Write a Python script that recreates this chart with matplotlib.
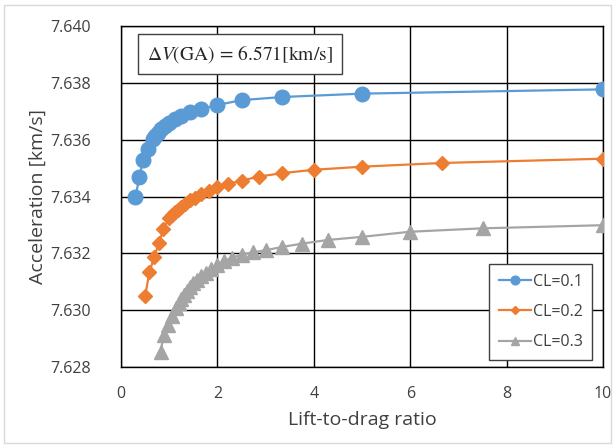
import matplotlib
matplotlib.use("Agg")
import matplotlib.pyplot as plt
from matplotlib.patches import Rectangle

plt.rcParams["font.family"] = ["Open Sans", "DejaVu Sans"]
plt.rcParams["mathtext.fontset"] = "stix"

# ---------------------------------------------------------------------------
# Data
# ---------------------------------------------------------------------------
ld_cl01 = [0.30, 0.38, 0.46, 0.57, 0.67, 0.71, 0.77, 0.83, 0.91, 1.00,
           1.11, 1.25, 1.43, 1.67, 2.00, 2.50, 3.33, 5.00, 10.00]
acc_cl01 = [7.63399, 7.63467, 7.63530, 7.63568, 7.63602, 7.63613, 7.63625,
            7.63636, 7.63648, 7.63660, 7.63672, 7.63684, 7.63696, 7.63707,
            7.63722, 7.63739, 7.63750, 7.63762, 7.63777]

ld_cl02 = [0.50, 0.59, 0.69, 0.79, 0.88, 1.00, 1.05, 1.11, 1.18, 1.25,
           1.33, 1.43, 1.54, 1.67, 1.82, 2.00, 2.22, 2.50, 2.86, 3.33,
           4.00, 5.00, 6.67, 10.00]
acc_cl02 = [7.63049, 7.63134, 7.63188, 7.63238, 7.63285, 7.63326, 7.63335,
            7.63344, 7.63354, 7.63364, 7.63375, 7.63386, 7.63396, 7.63408,
            7.63420, 7.63432, 7.63444, 7.63456, 7.63470, 7.63482, 7.63494,
            7.63505, 7.63518, 7.63533]

ld_cl03 = [0.82, 0.89, 0.98, 1.05, 1.15, 1.20, 1.25, 1.30, 1.36, 1.43,
           1.50, 1.58, 1.67, 1.76, 1.875, 2.00, 2.14, 2.31, 2.50, 2.73,
           3.00, 3.33, 3.75, 4.29, 5.00, 6.00, 7.50, 10.00]
acc_cl03 = [7.62854, 7.62913, 7.62949, 7.62978, 7.63008, 7.63025, 7.63040,
            7.63052, 7.63067, 7.63081, 7.63094, 7.63107, 7.63120, 7.63132,
            7.63145, 7.63158, 7.63173, 7.63185, 7.63195, 7.63203, 7.63211,
            7.63222, 7.63234, 7.63247, 7.63258, 7.63276, 7.63288, 7.63299]

series_labels = ["CL=0.1", "CL=0.2", "CL=0.3"]
x_ticks = [0, 2, 4, 6, 8, 10]
y_ticks = [7.628, 7.630, 7.632, 7.634, 7.636, 7.638, 7.640]

# ---------------------------------------------------------------------------
# Plot
# ---------------------------------------------------------------------------
fig = plt.figure(figsize=(6.15, 4.48), dpi=100)
ax = fig.add_axes([121 / 615, 1 - 367 / 448, (603 - 121) / 615, (367 - 26) / 448])

# light frame around the whole chart area
fig.patches.append(Rectangle((0.006, 0.012), 0.988, 0.976, transform=fig.transFigure,
                             fill=False, edgecolor="#d9d9d9", linewidth=1))

ax.plot(ld_cl01, acc_cl01, color="#5B9BD5", marker="o", markersize=10.5,
        linewidth=1.6, label=series_labels[0], zorder=5)
ax.plot(ld_cl02, acc_cl02, color="#ED7D31", marker="D", markersize=7.5,
        linewidth=1.6, label=series_labels[1], zorder=4)
ax.plot(ld_cl03, acc_cl03, color="#A5A5A5", marker="^", markersize=10,
        linewidth=1.6, label=series_labels[2], zorder=3)

ax.set_xlim(0, 10)
ax.set_ylim(7.628, 7.640)
ax.set_xticks(x_ticks)
ax.set_yticks(y_ticks)
ax.set_xticklabels([str(t) for t in x_ticks])
ax.set_yticklabels([f"{t:.3f}" for t in y_ticks])
ax.tick_params(length=0, labelsize=11.5, colors="#404040")
ax.tick_params(axis="x", pad=14)
ax.tick_params(axis="y", pad=22)
ax.grid(True, color="black", linewidth=1)
ax.set_axisbelow(True)
for sp in ax.spines.values():
    sp.set_color("black")
    sp.set_linewidth(1)

ax.set_xlabel("Lift-to-drag ratio", fontsize=14, color="#404040", labelpad=6)
ax.set_ylabel("Acceleration [km/s]", fontsize=14, color="#404040", labelpad=2)

fig.text(240 / 615, 1 - 54 / 448, r"$\Delta V(\mathrm{GA})\,=\,6.571[\mathrm{km/s}]$",
         ha="center", va="center", fontsize=14, color="#262626",
         bbox=dict(boxstyle="square,pad=0.45", facecolor="white",
                   edgecolor="#404040", linewidth=1))

leg = ax.legend(loc="lower right", bbox_to_anchor=(1 - 11 / 482, 7 / 341),
                fontsize=11.5, markerscale=0.6, handlelength=2.0,
                labelspacing=0.9, borderpad=0.6, handletextpad=0.1,
                borderaxespad=0, fancybox=False, framealpha=1, edgecolor="#404040")
for t in leg.get_texts():
    t.set_color("#404040")

fig.savefig("out.png", dpi=100)
